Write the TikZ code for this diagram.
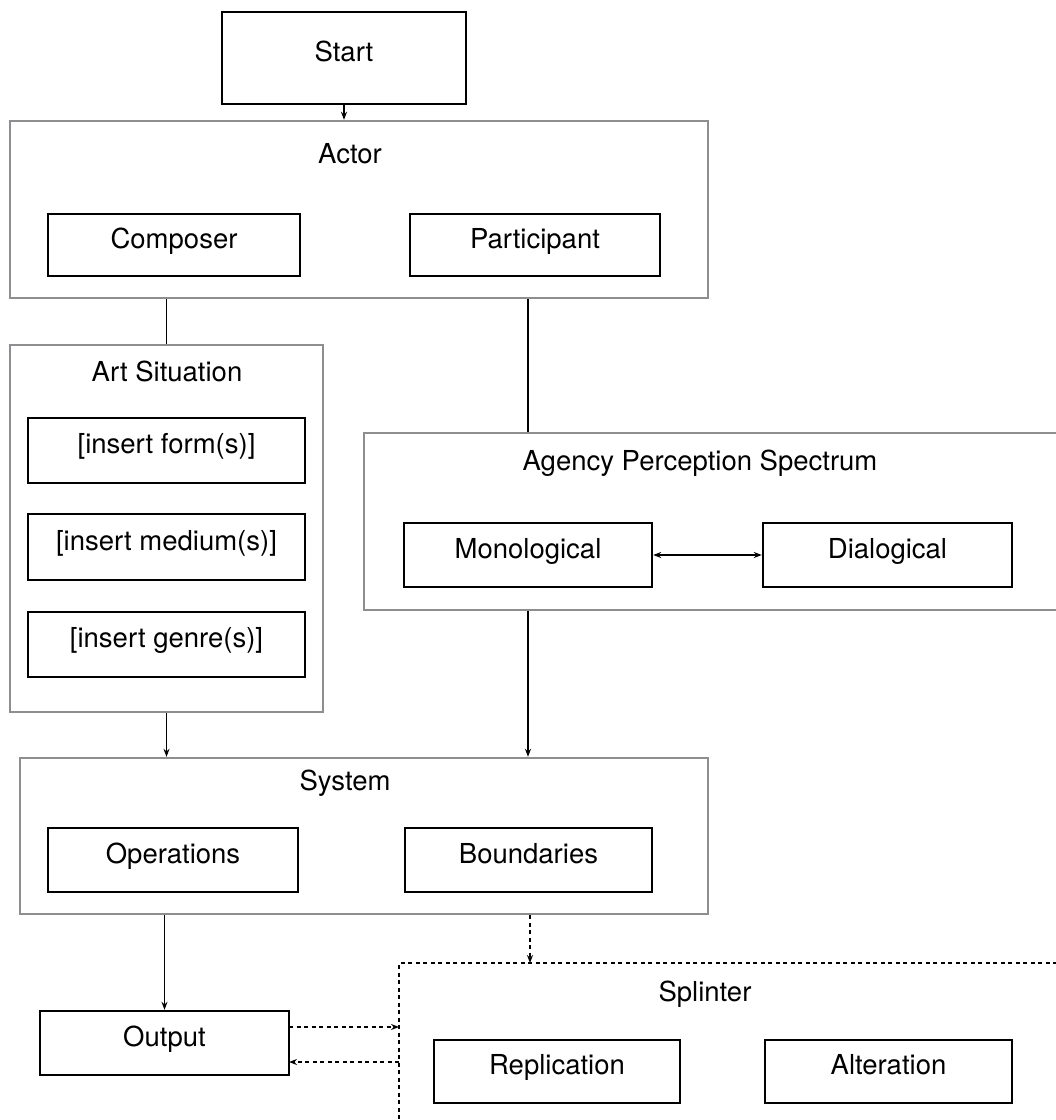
\documentclass[tikz,border=0pt]{standalone}
\usepackage{fontspec}
\setmainfont{TeX Gyre Heros}
\usetikzlibrary{arrows.meta,positioning}

\definecolor{framegray}{HTML}{8E8E90}

\tikzset{
  box/.style={draw=black, line width=2.4pt, rectangle, inner sep=0pt},
  frame/.style={draw=framegray, line width=2.4pt, rectangle, inner sep=0pt},
  lbl/.style={inner sep=0pt, anchor=center, text height=0.82em, text depth=0.18em},
  link/.style={line width=1.3pt, black},
  arr/.style={link, -{Stealth[length=8pt,width=6pt]}},
  darr/.style={line width=1.8pt, black, dash pattern=on 4pt off 3.5pt, -{Stealth[length=8pt,width=6pt]}},
  darrboth/.style={line width=1.3pt, black, {Stealth[length=8pt,width=6pt]}-{Stealth[length=8pt,width=6pt]}},
}

% rectangle node from its corners (x1,y1)-(x2,y2), y measured downward
\newcommand{\rectnode}[6]{%
  \node[#1, minimum width={(#5-#3)*1pt}, minimum height={(#6-#4)*1pt}]
    (#2) at ({(#3+#5)/2}, {(#4+#6)/2}) {};}

\begin{document}
\begin{tikzpicture}[x=1pt, y=-1pt, font=\fontsize{27.5}{33}\selectfont]
  \useasboundingbox (0,0) rectangle (1056,1120);

  % ---- start
  \rectnode{box}{start}{222}{12}{466}{104}
  \node[lbl] at (start) {Start};

  % ---- actor group
  \rectnode{frame}{actor}{10}{121}{708}{298}
  \node[lbl] (actorlbl) at (350,160) {Actor};
  \rectnode{box}{composer}{48}{214}{300}{276}
  \node[lbl] at (composer) {Composer};
  \rectnode{box}{participant}{410}{214}{660}{276}
  \node[lbl] at (participant) {Participant};

  % ---- art situation group
  \rectnode{frame}{art}{10}{345}{323}{712}
  \node[lbl] (artlbl) at (167,378) {Art Situation};
  \rectnode{box}{form}{28}{418}{305}{483}
  \node[lbl] at (form) {[insert form(s)]};
  \rectnode{box}{medium}{28}{514}{305}{580}
  \node[lbl] at (medium) {[insert medium(s)]};
  \rectnode{box}{genre}{28}{612}{305}{677}
  \node[lbl] at (genre) {[insert genre(s)]};

  % ---- agency perception spectrum group
  \rectnode{frame}{aps}{364}{433}{1072}{610}
  \node[lbl] (apslbl) at (700,467) {Agency Perception Spectrum};
  \rectnode{box}{mono}{404}{523}{652}{587}
  \node[lbl] at (mono) {Monological};
  \rectnode{box}{dial}{763}{523}{1012}{587}
  \node[lbl] at (dial) {Dialogical};

  % ---- system group
  \rectnode{frame}{system}{20}{758}{708}{914}
  \node[lbl] (systemlbl) at (345,787) {System};
  \rectnode{box}{operations}{48}{828}{298}{892}
  \node[lbl] at (operations) {Operations};
  \rectnode{box}{boundaries}{405}{828}{652}{892}
  \node[lbl] at (boundaries) {Boundaries};

  % ---- output
  \rectnode{box}{output}{40}{1011}{289}{1075}
  \node[lbl] at (output) {Output};

  % ---- splinter group (dashed frame)
  \draw[line width=1.8pt, dash pattern=on 4pt off 3.5pt]
    (1072,963) -- (399,963) -- (399,1130);
  \coordinate (splinterW) at (399,1040);
  \coordinate (splinterN) at (530,963);
  \coordinate (toSplinter) at (289,1027);
  \coordinate (fromSplinter) at (289,1062);
  \node[lbl] (splinterlbl) at (705,998) {Splinter};
  \rectnode{box}{replication}{434}{1040}{680}{1103}
  \node[lbl] at (replication) {Replication};
  \rectnode{box}{alteration}{765}{1040}{1012}{1103}
  \node[lbl] at (alteration) {Alteration};

  % ---- connectors
  \draw[arr] (start.south) -- (start.south |- actor.north);
  \draw[link] (art.north |- actor.south) -- (art.north);
  \draw[link] (mono.north |- actor.south) -- (mono.north |- aps.north);
  \draw[darrboth] (mono.east) -- (dial.west);
  \draw[arr] (art.south) -- (art.south |- system.north);
  \draw[arr] (mono.south |- aps.south) -- (mono.south |- system.north);
  \draw[arr] (output.north |- system.south) -- (output.north);
  \draw[darr] (splinterN |- system.south) -- (splinterN);
  \draw[darr] (toSplinter) -- (toSplinter -| splinterW);
  \draw[darr] (fromSplinter -| splinterW) -- (fromSplinter);
\end{tikzpicture}
\end{document}
